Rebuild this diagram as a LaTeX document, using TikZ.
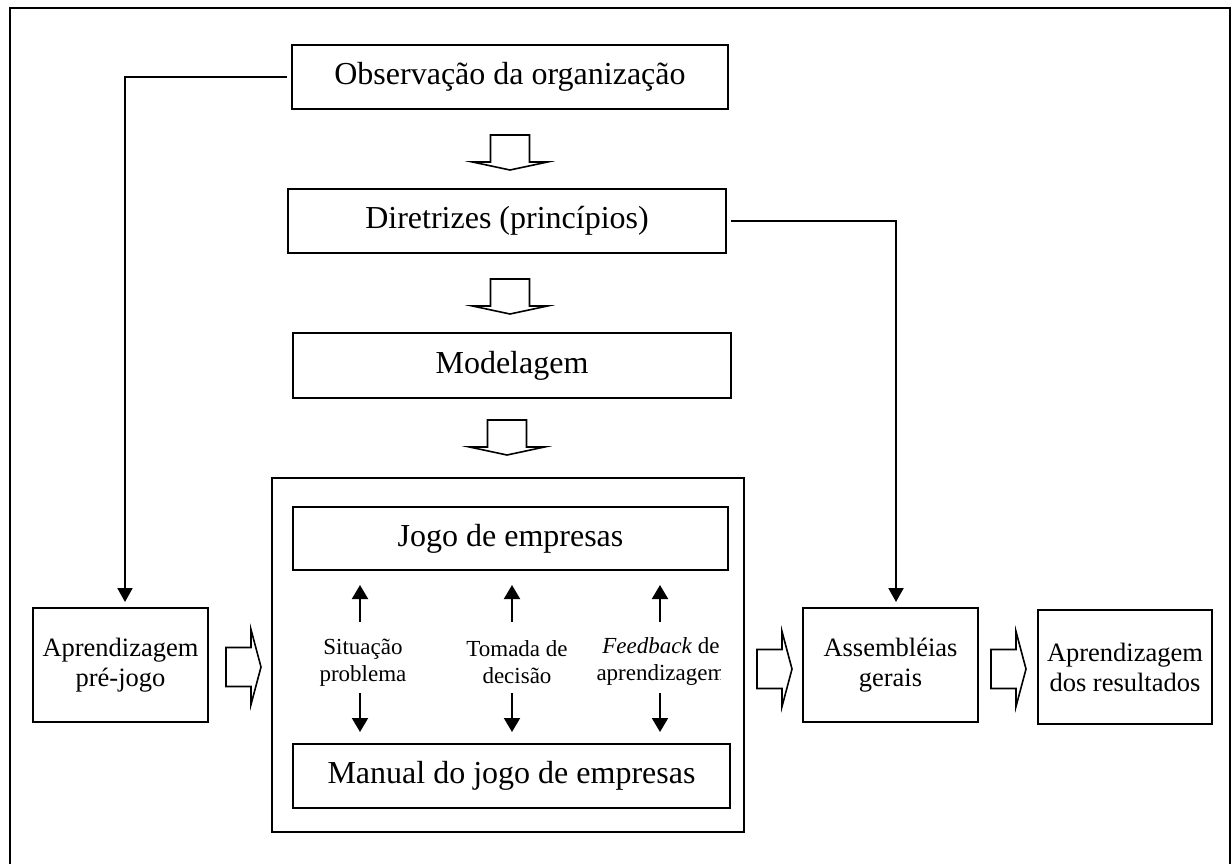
\documentclass[tikz,border=0pt]{standalone}
\usepackage{fontspec}
\setmainfont{Liberation Serif}
\usetikzlibrary{arrows.meta}
% hollow block arrows: stem top centre / stem left end and centre line
\newcommand\hdown[2]{\draw[hollow] (#1-19.5,#2) -- (#1+19.5,#2) -- (#1+19.5,#2+27) -- (#1+37.5,#2+27) -- (#1,#2+35) -- (#1-37.5,#2+27) -- (#1-19.5,#2+27) -- cycle;}
\newcommand\hright[2]{\draw[hollow] (#1,#2-19.5) -- (#1+25,#2-19.5) -- (#1+25,#2-37.5) -- (#1+35,#2) -- (#1+25,#2+37.5) -- (#1+25,#2+19.5) -- (#1,#2+19.5) -- cycle;}
\begin{document}
\begin{tikzpicture}[x=1pt,y=-1pt,
  box/.style={draw, line width=2pt, inner sep=0pt, align=center, font=\fontsize{32}{38}\selectfont},
  sidebox/.style={box, minimum width=175pt, minimum height=114pt, font=\fontsize{26.5}{30}\selectfont},
  lbl/.style={inner sep=0pt, align=center, font=\fontsize{23}{27}\selectfont},
  conn/.style={line width=2pt, -{Triangle[length=14pt,width=15pt]}},
  tinyarr/.style={line width=2pt, -{Triangle[length=14pt,width=16pt]}},
  hollow/.style={draw, line width=1.6pt, fill=white, line join=miter}]
\useasboundingbox (0,0) rectangle (1232,863);
\draw[line width=2pt] (10,8) rectangle (1230,870);

% main column
\node[box, minimum width=436pt, minimum height=64pt] (obs) at (510,77) {Observação da organização};
\node[box, minimum width=438pt, minimum height=64pt] (dir) at (507,221) {Diretrizes (princípios)};
\node[box, minimum width=438pt, minimum height=65pt] (mod) at (512,365.5) {Modelagem};
\hdown{510}{135}
\hdown{510}{279}
\hdown{507}{420}

% game block
\node[draw, line width=2pt, minimum width=472pt, minimum height=354pt] (game) at (508,655) {};
\node[box, minimum width=435pt, minimum height=63pt] (jogo) at (510.5,538.5) {Jogo de empresas};
\node[box, minimum width=437pt, minimum height=64pt] (manual) at (511.5,776) {Manual do jogo de empresas};

\node[lbl] (sit) at (363,663) {Situação\\problema};
\node[lbl] (tom) at (517,662) {Tomada de\\decisão};
\begin{scope}
  \clip (580,620) rectangle (720,700);
  \node[lbl] (feed) at (661,661) {\textit{Feedback} de\\aprendizagem};
\end{scope}

\coordinate (u1) at (360,622);
\coordinate (u2) at (512,622);
\coordinate (u3) at (660,622);
\coordinate (d1) at (360,693);
\coordinate (d2) at (512,693);
\coordinate (d3) at (660,693);
\foreach \c in {u1,u2,u3}
  \draw[tinyarr, shorten >=14pt] (\c) -- (\c |- jogo.south);
\foreach \c in {d1,d2,d3}
  \draw[tinyarr, shorten >=11pt] (\c) -- (\c |- manual.north);

% side boxes
\node[sidebox] (prej) at (120.5,665) {Aprendizagem\\pré-jogo};
\node[sidebox] (assem) at (890.5,665) {Assembléias\\gerais};
\node[sidebox, minimum width=174pt] (res) at (1125,667) {Aprendizagem\\dos resultados};
\hright{226}{667}
\hright{757}{669}
\hright{991}{669}

% feed lines
\draw[conn] ([xshift=-4pt]obs.west) -| ([xshift=4.5pt,yshift=5pt]prej.north);
\draw[conn] ([xshift=4pt]dir.east) -| ([xshift=5.5pt,yshift=5pt]assem.north);
\end{tikzpicture}
\end{document}
